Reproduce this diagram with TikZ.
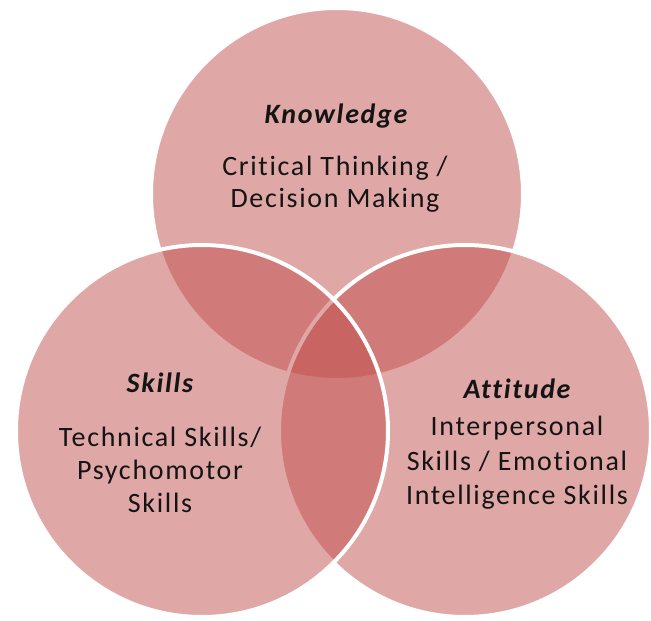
\documentclass[tikz,border=0pt]{standalone}
\usepackage{fontspec}
\setmainfont{Carlito}
\newfontfamily\vennfont[LetterSpace=6,Ligatures=NoCommon]{Carlito}
\definecolor{vennred}{RGB}{192,80,77}
\definecolor{venntext}{RGB}{20,20,20}
\tikzset{every picture/.style={line width=0.75pt}}
\tikzset{
	venn/.style={circle, minimum size=279pt, inner sep=0pt, fill=vennred, fill opacity=0.5, draw=white, draw opacity=1, line width=3pt},
	venntitle/.style={inner sep=0.75pt, text=venntext, font=\vennfont\fontsize{21}{25}\selectfont\bfseries\itshape},
	venntxt/.style={inner sep=0.75pt, text=venntext, align=center, font=\vennfont\fontsize{21}{#1}\selectfont},
	venntxt/.default=25pt
}
\begin{document}
\begin{tikzpicture}[x=0.75pt,y=0.75pt,yscale=-1,xscale=1]
	\useasboundingbox (0,0) rectangle (651,621);

	%Shape: Circle [id:knowledge]
	\node [venn] (know) at (337,194) {};
	%Shape: Circle [id:attitude]
	\node [venn] (att) at (465,431) {};
	%Shape: Circle [id:skills]
	\node [venn] (skl) at (202,431) {};

	% Text Node
	\node [venntitle] (knowhead) at (336,116) {Knowledge};
	% Text Node
	\node [venntxt=24pt] (knowbody) at (335,184) {Critical Thinking /\\Decision Making};
	% Text Node
	\node [venntitle] (sklhead) at (160,383) {Skills};
	% Text Node
	\node [venntxt=25pt] (sklbody) at (160,470) {Technical Skills/\\Psychomotor\\Skills};
	% Text Node
	\node [venntitle] (atthead) at (517,389) {Attitude};
	% Text Node
	\node [venntxt=26pt] (attbody) at (517,463) {Interpersonal\\Skills / Emotional\\Intelligence Skills};

\end{tikzpicture}
\end{document}
